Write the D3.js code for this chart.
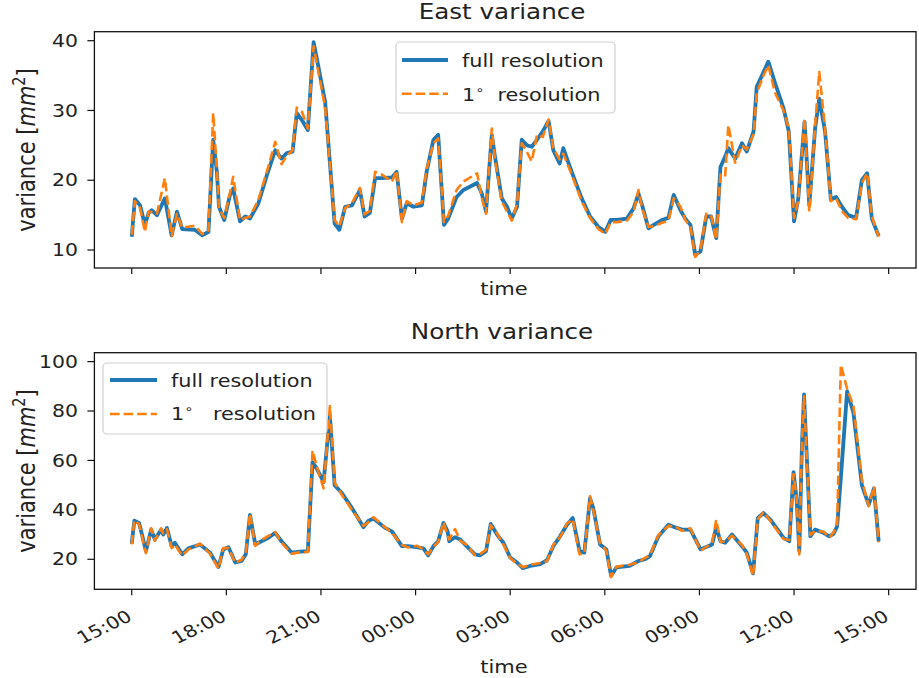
<!DOCTYPE html>
<html>
<head>
<meta charset="utf-8">
<script src="https://cdn.jsdelivr.net/npm/d3@7"></script>
<style>
  html, body { margin: 0; padding: 0; background: #fff; }
  svg { display: block; }
  text { font-family: "DejaVu Sans", sans-serif; fill: #222; }
</style>
</head>
<body>
<svg id="chart" width="919" height="678"></svg>
<script>
// ---------------- DATA (minutes after 15:00 of day 1) ----------------
const eastTime = [0,6,16,25,32,38,48,63,76,86,96,120,134,146,155,162,166,176,187,193,206,216,225,241,257,273,285,295,306,314,324,335,346,352,368,386,395,406,419,434,443,453,463,476,495,504,514,523,536,552,561,574,583,594,602,618,631,657,666,674,685,691,704,714,723,733,742,752,761,771,782,793,802,814,821,837,856,872,888,901,911,923,942,955,964,971,983,993,1009,1021,1031,1044,1053,1063,1072,1082,1093,1102,1112,1120,1129,1135,1148,1161,1170,1183,1189,1202,1211,1224,1240,1250,1260,1268,1280,1289,1300,1308,1319,1330,1340,1351,1363,1378,1389,1399,1408,1421];
const eastFull = [11.9,17.3,16.4,13.6,15.3,15.7,15.0,17.4,12.1,15.5,13.0,12.9,12.1,12.6,25.8,21.2,16.2,14.3,17.9,18.8,14.1,14.8,14.5,16.7,20.7,24.3,23.1,23.9,24.1,29.6,28.6,27.2,39.8,37.5,31.2,13.8,12.9,16.2,16.4,18.6,14.8,15.3,20.3,20.3,20.4,21.2,14.5,16.7,16.2,16.4,21.2,25.8,26.5,13.6,14.5,17.6,18.6,19.6,18.1,15.5,26.5,23.4,17.4,16.2,14.5,16.2,25.8,25.0,24.8,25.8,27.0,28.5,24.3,22.4,24.6,21.2,17.4,14.8,13.3,12.6,14.3,14.3,14.5,16.0,18.1,16.4,13.1,13.6,14.3,14.6,17.9,15.7,14.5,13.6,9.3,9.8,14.8,14.8,11.7,21.9,23.4,24.6,23.1,25.3,24.1,27.0,33.4,35.5,37.0,33.9,30.3,27.0,14.1,17.4,28.4,16.4,27.4,31.7,27.0,17.2,17.6,16.2,15.0,14.6,20.0,21.0,14.5,12.0];
const eastCoarse = [12.2,17.0,16.0,12.6,15.5,15.4,15.2,20.3,12.0,15.2,13.2,13.5,12.3,12.8,29.6,21.5,16.0,14.6,18.2,20.5,14.3,14.6,14.8,17.2,21.2,25.5,22.3,23.5,24.3,30.4,29.8,27.4,39.2,36.8,30.4,14.3,13.4,16.0,16.7,18.9,15.1,15.6,21.2,20.8,19.8,21.4,14.0,17.0,16.4,16.8,21.6,25.3,26.0,14.0,14.9,18.6,19.8,21.0,17.5,15.2,27.4,23.0,17.0,15.5,14.2,16.6,25.3,24.0,22.7,26.5,26.2,28.7,24.6,23.0,23.8,20.8,17.0,14.6,13.0,12.3,14.0,14.0,14.2,15.5,18.6,16.0,13.3,13.4,13.9,14.2,17.4,16.2,14.3,13.4,9.0,10.0,15.2,15.0,11.5,21.0,20.7,27.9,22.5,25.0,24.4,26.6,32.5,35.0,36.5,32.5,30.0,27.4,14.6,17.0,28.9,15.5,27.8,35.5,27.4,17.0,17.4,15.6,14.6,14.4,19.6,21.0,14.8,11.9];

const northTime = [0,5,14,21,27,37,44,56,60,67,76,82,96,108,130,149,165,174,184,197,209,217,225,235,247,260,273,285,304,320,335,344,352,365,371,377,386,400,419,441,450,460,482,495,514,526,542,555,564,574,583,593,601,604,615,625,637,653,663,674,683,695,707,720,733,744,758,777,790,802,815,828,839,852,861,872,878,891,903,912,922,947,964,976,986,1002,1021,1034,1047,1063,1082,1104,1112,1120,1129,1142,1161,1170,1182,1191,1202,1215,1240,1251,1259,1265,1270,1275,1279,1283,1291,1300,1316,1327,1335,1342,1349,1361,1373,1389,1402,1412,1421];
const northFull = [26.3,35.6,34.7,28.7,23.3,32,28,32,30,32.7,25.3,26.7,22,24.4,26,22.7,16.9,24,24.9,18.7,19.3,22,38,26,27.3,28.7,30.7,27.3,22.7,23.1,23.3,59.3,56.7,51.3,64.7,78,50,46.7,40.7,33,35.5,36.5,32.7,31.3,25.3,25.3,24.9,24.4,21.6,25.3,27.3,34.7,31.3,27.3,28.9,28,25.3,22,21.6,23.3,34.3,30,26.7,20.7,18.7,16.4,17.3,18,19.6,25.3,29.3,34,36.7,23.3,22.7,44.7,40.7,26,24,13.3,16.7,17.3,19.3,20,21.3,29.3,34,32.9,32,32,24,26,33,27.3,26.7,30,25.3,22.7,14.3,36.7,38.7,36,28.7,27.3,55.3,44,23.3,66,86.7,67.3,29.3,32,30.7,29.3,30.3,33.3,53,88,79.3,50,42,48.7,27.3];
const northCoarse = [26,35.8,34.2,28,22.5,32.5,27.5,32.5,30.5,32.2,24.5,26,21.5,24,26.3,22.3,16.2,24.5,24.5,18.5,19.8,22.5,38.5,25.5,27.8,29.5,31,26.8,22.3,22.8,23,64,57.5,48.7,65,82,51,46,40,33.5,35,37,33,30.7,25.8,24.8,25.5,24,22,25,27,35,29.5,28,32.2,27.5,25.8,21.7,22.2,23.8,33.8,30.5,26,20.5,18.2,16.8,17.8,18.5,19.2,25.8,29,34.5,36.2,22,22.3,45.5,40,26.5,23.5,12.8,17,17.8,18.8,20.5,21.8,29.8,33.5,33.3,31.5,32.5,23.5,26.5,36,27,27.2,29.5,25.8,22.2,13.2,36.2,39.2,35.5,28.2,27.8,54.5,44.5,22,67,86,66.5,29.8,31.5,31.2,28.8,30.8,34,98.7,89,82,52,41.5,49.5,26.8];

const eastTicks = [10, 20, 30, 40];
const northTicks = [20, 40, 60, 80, 100];
const seriesNames = ["full resolution", "1", "resolution"];
const titles = ["East variance", "North variance"];

// ---------------- LAYOUT ----------------
const SX = 1.2; // horizontal text stretch seen in the reference
const svg = d3.select("#chart");
const t0 = Date.UTC(2000, 0, 1, 15, 0);
const toDate = m => new Date(t0 + m * 60000);

const left = 94.4, right = 916;
const x = d3.scaleUtc()
  .domain([toDate(-71), toDate(1492)])
  .range([left, right]);

const panels = [
  { top: 31.7, bottom: 268, dom: [7.42, 41.29], ticks: eastTicks, title: titles[0],
    time: eastTime, full: eastFull, coarse: eastCoarse, showLabels: false,
    titleY: 18.5, xlabY: 295, ylabY: 150,
    legend: { x0: 396, x1: 615, y0: 42, y1: 113, lx0: 402, lx1: 448, tx: 462, r1: 60, r2: 93.7, b1: 67.3, b2: 101, sp: " " } },
  { top: 352.7, bottom: 589.3, dom: [7.85, 103.6], ticks: northTicks, title: titles[1],
    time: northTime, full: northFull, coarse: northCoarse, showLabels: true,
    titleY: 338.5, xlabY: 673, ylabY: 471,
    legend: { x0: 103, x1: 327, y0: 363, y1: 434, lx0: 110, lx1: 157, tx: 171, r1: 380, r2: 414, b1: 386.7, b2: 420.3, sp: "  " } }
];

function sText(g, px, py, str, size, anchor, rot) {
  const t = g.append("text")
    .attr("transform", `translate(${px},${py}) scale(${SX},1)` + (rot ? ` rotate(${rot})` : ""))
    .attr("text-anchor", anchor)
    .attr("font-size", size);
  if (str !== null) t.text(str);
  return t;
}

const fmt = d3.utcFormat("%H:%M");
const xticks = x.ticks(d3.utcHour.every(3));

panels.forEach(p => {
  const g = svg.append("g");
  const y = d3.scaleLinear().domain(p.dom).range([p.bottom, p.top]);

  // lines
  const full = p.time.map((t, i) => [toDate(t), p.full[i]]);
  const coarse = p.time.map((t, i) => [toDate(t), p.coarse[i]]);
  const line = d3.line().x(d => x(d[0])).y(d => y(d[1]));
  g.append("path").datum(full).attr("d", line)
    .attr("fill", "none").attr("stroke", "#1f77b4").attr("stroke-width", 3.8)
    .attr("stroke-linejoin", "round").attr("stroke-linecap", "butt");
  g.append("path").datum(coarse).attr("d", line)
    .attr("fill", "none").attr("stroke", "#ff7f0e").attr("stroke-width", 2.6)
    .attr("stroke-dasharray", "9.5,4.1").attr("stroke-linejoin", "round");

  // frame
  g.append("rect").attr("x", left).attr("y", p.top)
    .attr("width", right - left).attr("height", p.bottom - p.top)
    .attr("fill", "none").attr("stroke", "#111").attr("stroke-width", 1.3);

  // y ticks
  p.ticks.forEach(v => {
    const yy = y(v);
    g.append("line").attr("x1", left - 7).attr("x2", left).attr("y1", yy).attr("y2", yy)
      .attr("stroke", "#111").attr("stroke-width", 1.2);
    sText(g, 78, yy + 6.2, String(v), 17, "end");
  });

  // x ticks
  xticks.forEach(d => {
    const xx = x(d);
    g.append("line").attr("x1", xx).attr("x2", xx).attr("y1", p.bottom).attr("y2", p.bottom + 6)
      .attr("stroke", "#111").attr("stroke-width", 1.2);
    if (p.showLabels) sText(g, xx + 1.5, p.bottom + 30.5, fmt(d), 17, "end", -30);
  });

  // title & labels
  sText(g, 502, p.titleY, p.title, 20.5, "middle");
  sText(g, 504, p.xlabY, "time", 17.5, "middle");
  const yl = sText(g, 34.5, p.ylabY, null, 21, "middle", -90);
  yl.append("tspan").text("variance [");
  yl.append("tspan").attr("font-style", "italic").text("mm");
  yl.append("tspan").attr("font-size", 14.5).attr("dy", -8).text("2");
  yl.append("tspan").attr("dy", 8).text("]");

  // legend
  const L = p.legend;
  g.append("rect").attr("x", L.x0).attr("y", L.y0).attr("width", L.x1 - L.x0).attr("height", L.y1 - L.y0)
    .attr("rx", 4).attr("fill", "#fff").attr("fill-opacity", 0.8)
    .attr("stroke", "#d0d0d0").attr("stroke-width", 1.2);
  g.append("line").attr("x1", L.lx0).attr("x2", L.lx1).attr("y1", L.r1).attr("y2", L.r1)
    .attr("stroke", "#1f77b4").attr("stroke-width", 3.8);
  g.append("line").attr("x1", L.lx0).attr("x2", L.lx1).attr("y1", L.r2).attr("y2", L.r2)
    .attr("stroke", "#ff7f0e").attr("stroke-width", 2.6).attr("stroke-dasharray", "9.5,4.1");
  sText(g, L.tx, L.b1, seriesNames[0], 17.3, "start");
  const t2 = sText(g, L.tx, L.b2, null, 17.3, "start");
  t2.append("tspan").text(seriesNames[1]);
  t2.append("tspan").attr("font-size", 12).attr("dy", -7).text("\u2218");
  t2.append("tspan").attr("dy", 7).attr("xml:space", "preserve").style("white-space", "pre").text(L.sp + " " + seriesNames[2]);
});
</script>
</body>
</html>
